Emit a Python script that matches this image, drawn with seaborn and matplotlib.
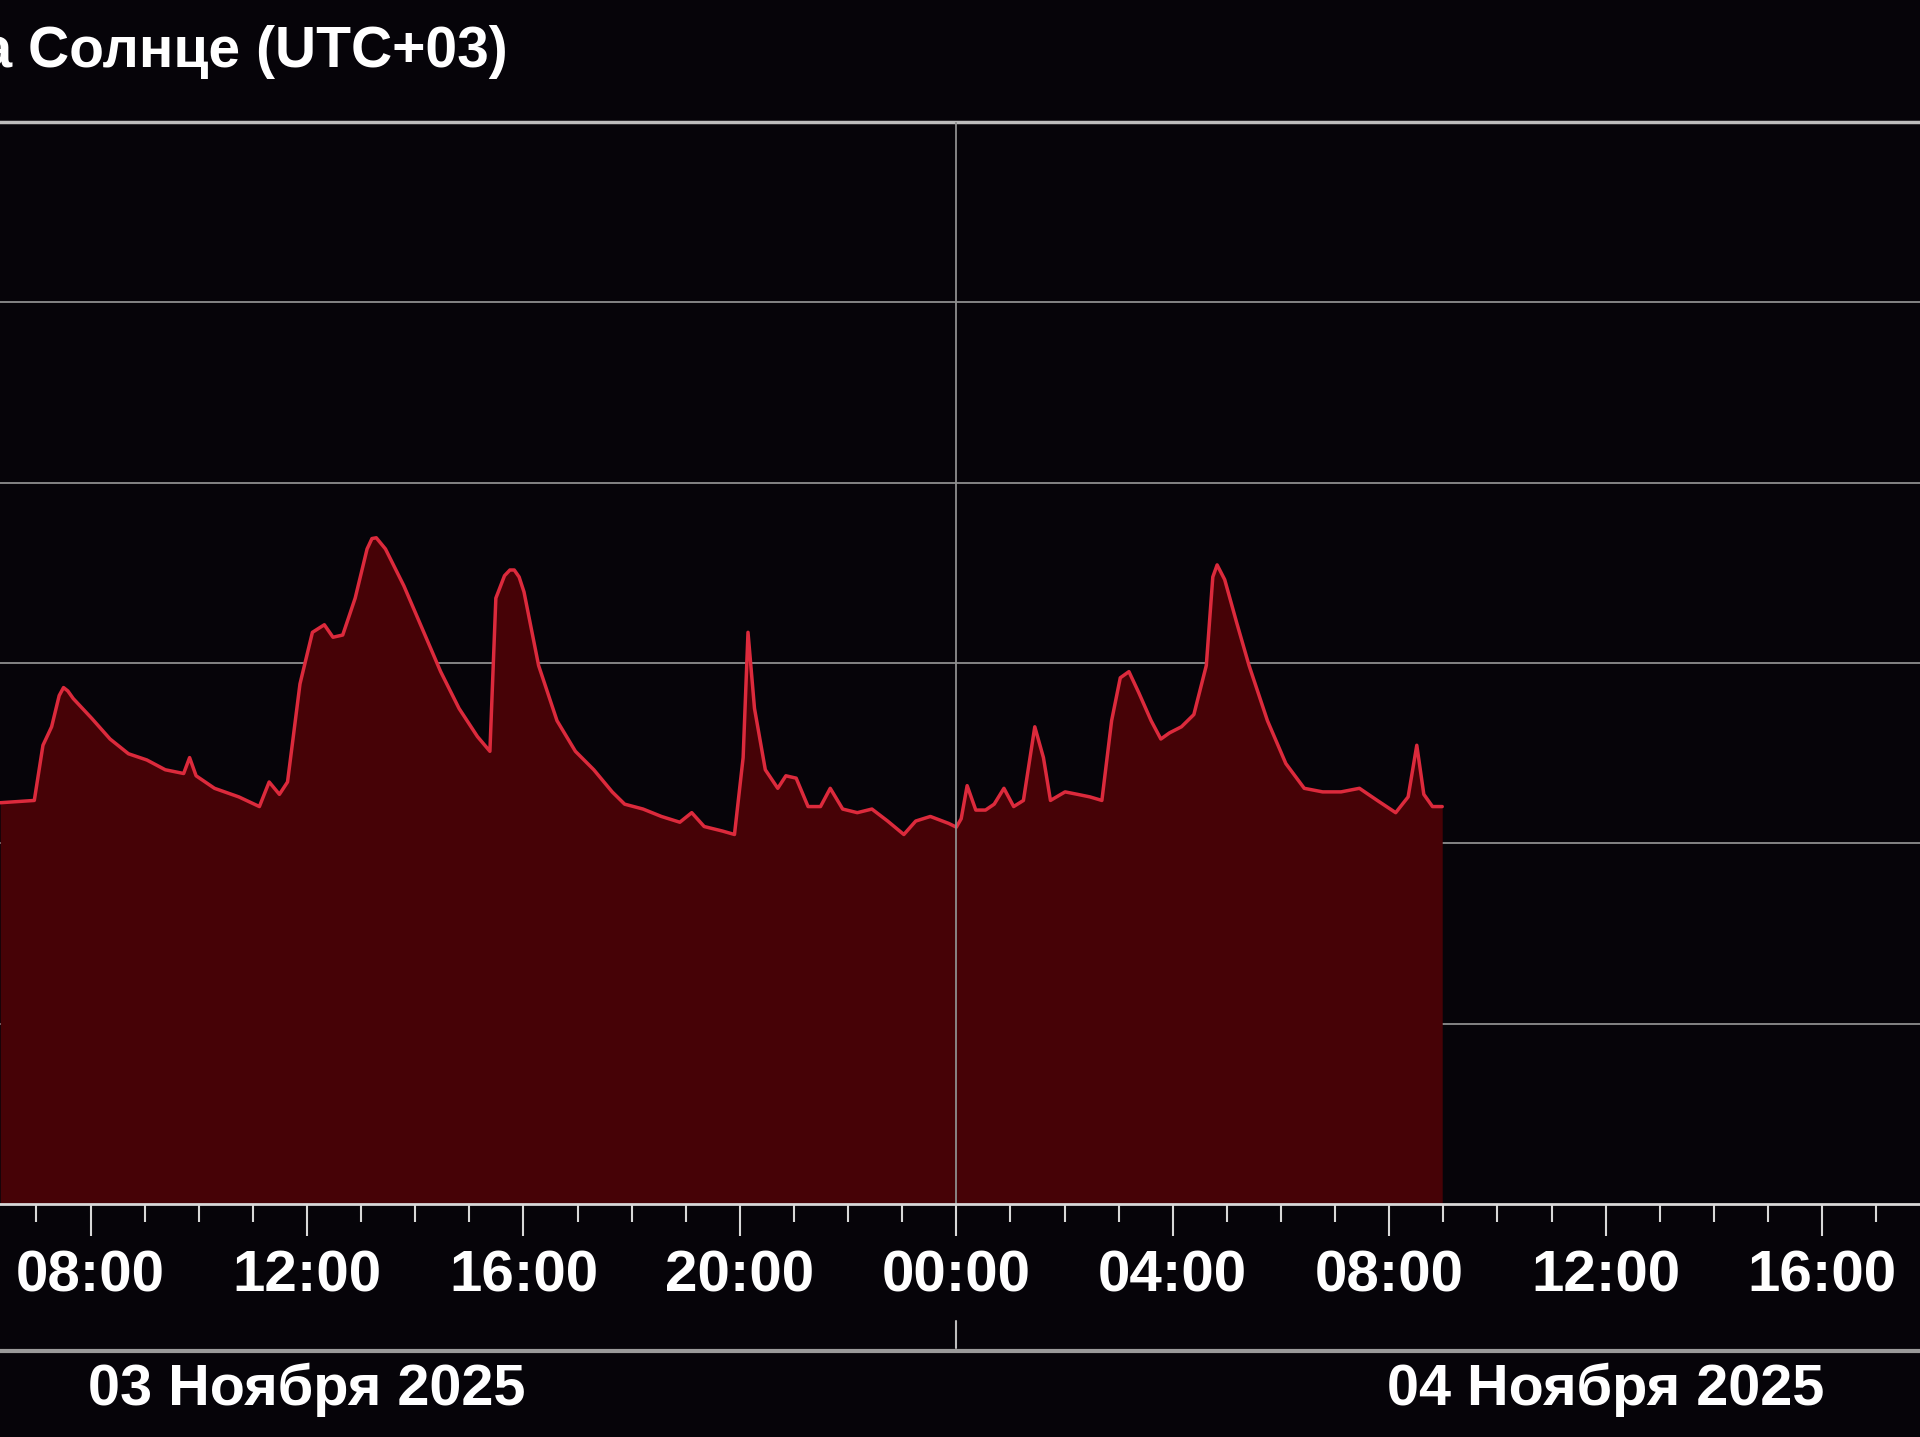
import matplotlib
matplotlib.use("Agg")
import matplotlib.pyplot as plt
import matplotlib.dates as mdates
import pandas as pd
import seaborn as sns

# hours since 2025-11-03 00:00 (UTC+03)
hours = [6.33, 6.96, 7.12, 7.28, 7.42, 7.50, 7.58, 7.68, 8.02, 8.36, 8.70, 9.04, 9.38, 9.72, 9.83, 9.95,
         10.29, 10.74, 11.12, 11.30, 11.49, 11.64, 11.87, 12.10, 12.32, 12.48, 12.66, 12.89,
         13.11, 13.20, 13.28, 13.45, 13.79, 14.13, 14.47, 14.81, 15.15, 15.38, 15.49, 15.65, 15.75,
         15.83, 15.92, 16.01, 16.28, 16.62, 16.96, 17.30, 17.64, 17.87, 18.21, 18.55, 18.89, 19.11, 19.34,
         19.68, 19.90, 20.06, 20.15, 20.27, 20.47, 20.70, 20.85, 21.04, 21.26, 21.49, 21.67,
         21.90, 22.17, 22.44, 22.73, 23.03, 23.25, 23.52, 23.86, 24.00,
         24.09, 24.20, 24.36, 24.54, 24.70, 24.88, 25.06, 25.24, 25.45, 25.61, 25.74, 26.01,
         26.24, 26.47, 26.69, 26.87, 27.03, 27.19, 27.37, 27.60, 27.78, 27.94, 28.16, 28.39,
         28.62, 28.74, 28.82, 28.96, 29.18, 29.41, 29.75, 30.09, 30.43, 30.77, 31.11, 31.45, 31.78,
         32.12, 32.35, 32.51, 32.64, 32.80, 32.98]

# x-ray flux, units of 1e-6 W/m^2
flux = [1.68, 1.73, 3.50, 4.43, 6.60, 7.31, 7.00, 6.35, 4.94, 3.79, 3.14, 2.90, 2.56, 2.44, 2.99, 2.37,
        2.02, 1.81, 1.60, 2.19, 1.87, 2.19, 7.66, 14.8, 16.3, 13.9, 14.3, 22.9,
        42.9, 49.0, 49.5, 42.9, 26.8, 15.5, 8.96, 5.60, 3.91, 3.24, 22.9, 30.5, 32.8,
        32.8, 30.0, 24.8, 9.69, 4.79, 3.24, 2.56, 1.93, 1.65, 1.55, 1.41, 1.31, 1.48, 1.24,
        1.17, 1.12, 2.99, 14.8, 5.60, 2.56, 2.02, 2.37, 2.30, 1.60, 1.60, 2.02,
        1.55, 1.48, 1.55, 1.33, 1.12, 1.33, 1.41, 1.29, 1.23,
        1.37, 2.09, 1.53, 1.53, 1.65, 2.02, 1.60, 1.73, 4.43, 2.99, 1.73, 1.93,
        1.87, 1.81, 1.73, 4.79, 8.28, 8.96, 6.87, 4.79, 3.79, 4.10, 4.43, 5.18,
        9.69, 30.0, 35.0, 29.0, 16.8, 9.69, 4.79, 2.77, 2.02, 1.93, 1.93, 2.02, 1.73,
        1.48, 1.81, 3.50, 1.87, 1.60, 1.60]

title_text = "на Солнце (UTC+03)"
day_labels = ["03 Ноября 2025", "04 Ноября 2025"]
day_noons = ["2025-11-03 12:00", "2025-11-04 12:00"]
midnight = "2025-11-04 00:00"

start = pd.Timestamp("2025-11-03")
df = pd.DataFrame({
    "time": start + pd.to_timedelta(hours, unit="h"),
    "flux": [v * 1e-6 for v in flux],
})

bg = "#060409"
grid_col = "#8e8e8e"
sns.set_style("dark", {"axes.facecolor": bg, "figure.facecolor": bg,
                       "axes.edgecolor": "#d8d8d8", "xtick.color": "#d8d8d8",
                       "text.color": "white", "xtick.bottom": True})
plt.rcParams["font.family"] = ["Liberation Sans", "DejaVu Sans"]

fig = plt.figure(figsize=(19.2, 14.37), dpi=100)
ax = fig.add_axes([0, 0.1621, 1, 0.7530])
ax.set_yscale("log")
ax.set_ylim(1e-8, 1e-2)

ax.fill_between(df["time"], df["flux"], 1e-8, color="#460206", lw=0, zorder=2)
sns.lineplot(data=df, x="time", y="flux", ax=ax, color="#dc2a3c", lw=2.5, zorder=3)

ax.set_xlim(start + pd.Timedelta(hours=6.326), start + pd.Timedelta(hours=41.81))

# horizontal grid at every decade, vertical line at midnight
for d in range(-7, -1):
    ax.axhline(10.0 ** d, color=grid_col, lw=1.3, zorder=1)
ax.axvline(pd.Timestamp(midnight), color=grid_col, lw=1.3, zorder=4)

for s in ["left", "right"]:
    ax.spines[s].set_visible(False)
ax.spines["top"].set_color("#bdbdbd")
ax.spines["top"].set_linewidth(2.5)
ax.spines["bottom"].set_color("#d8d8d8")
ax.spines["bottom"].set_linewidth(2)
ax.spines["bottom"].set_zorder(5)

ax.set_yticks([])
ax.yaxis.set_minor_locator(matplotlib.ticker.NullLocator())
ax.set_xlabel("")
ax.set_ylabel("")
ax.grid(False)

ax.xaxis.set_major_locator(mdates.HourLocator(byhour=range(0, 24, 4)))
ax.xaxis.set_minor_locator(mdates.HourLocator())
ax.xaxis.set_major_formatter(mdates.DateFormatter("%H:%M"))
ax.tick_params(axis="x", which="major", length=23, width=1.5, color="#d8d8d8",
               labelsize=42, labelcolor="white", pad=10)
ax.tick_params(axis="x", which="minor", length=13, width=1.5, color="#d8d8d8")
for lab in ax.get_xticklabels():
    lab.set_fontweight("bold")

xt = ax.get_xaxis_transform()
# separator line and midnight marker under the tick labels
ax.plot([0, 1], [-0.136, -0.136], transform=ax.transAxes, color="#9a9a9a",
        lw=3, clip_on=False, solid_capstyle="butt")
m = mdates.date2num(pd.Timestamp(midnight))
ax.plot([m, m], [-0.108, -0.133], transform=xt, color="#bdbdbd", lw=1.5, clip_on=False)

for lab, noon in zip(day_labels, day_noons):
    ax.text(pd.Timestamp(noon), -0.172, lab, transform=xt, ha="center", va="center",
            fontsize=41.5, fontweight="bold", color="white")

fig.text(508 / 1920, 1 - 52 / 1437, title_text, ha="right", va="center",
         fontsize=41, fontweight="bold", color="white")

fig.savefig("out.png", dpi=100, facecolor=bg)
